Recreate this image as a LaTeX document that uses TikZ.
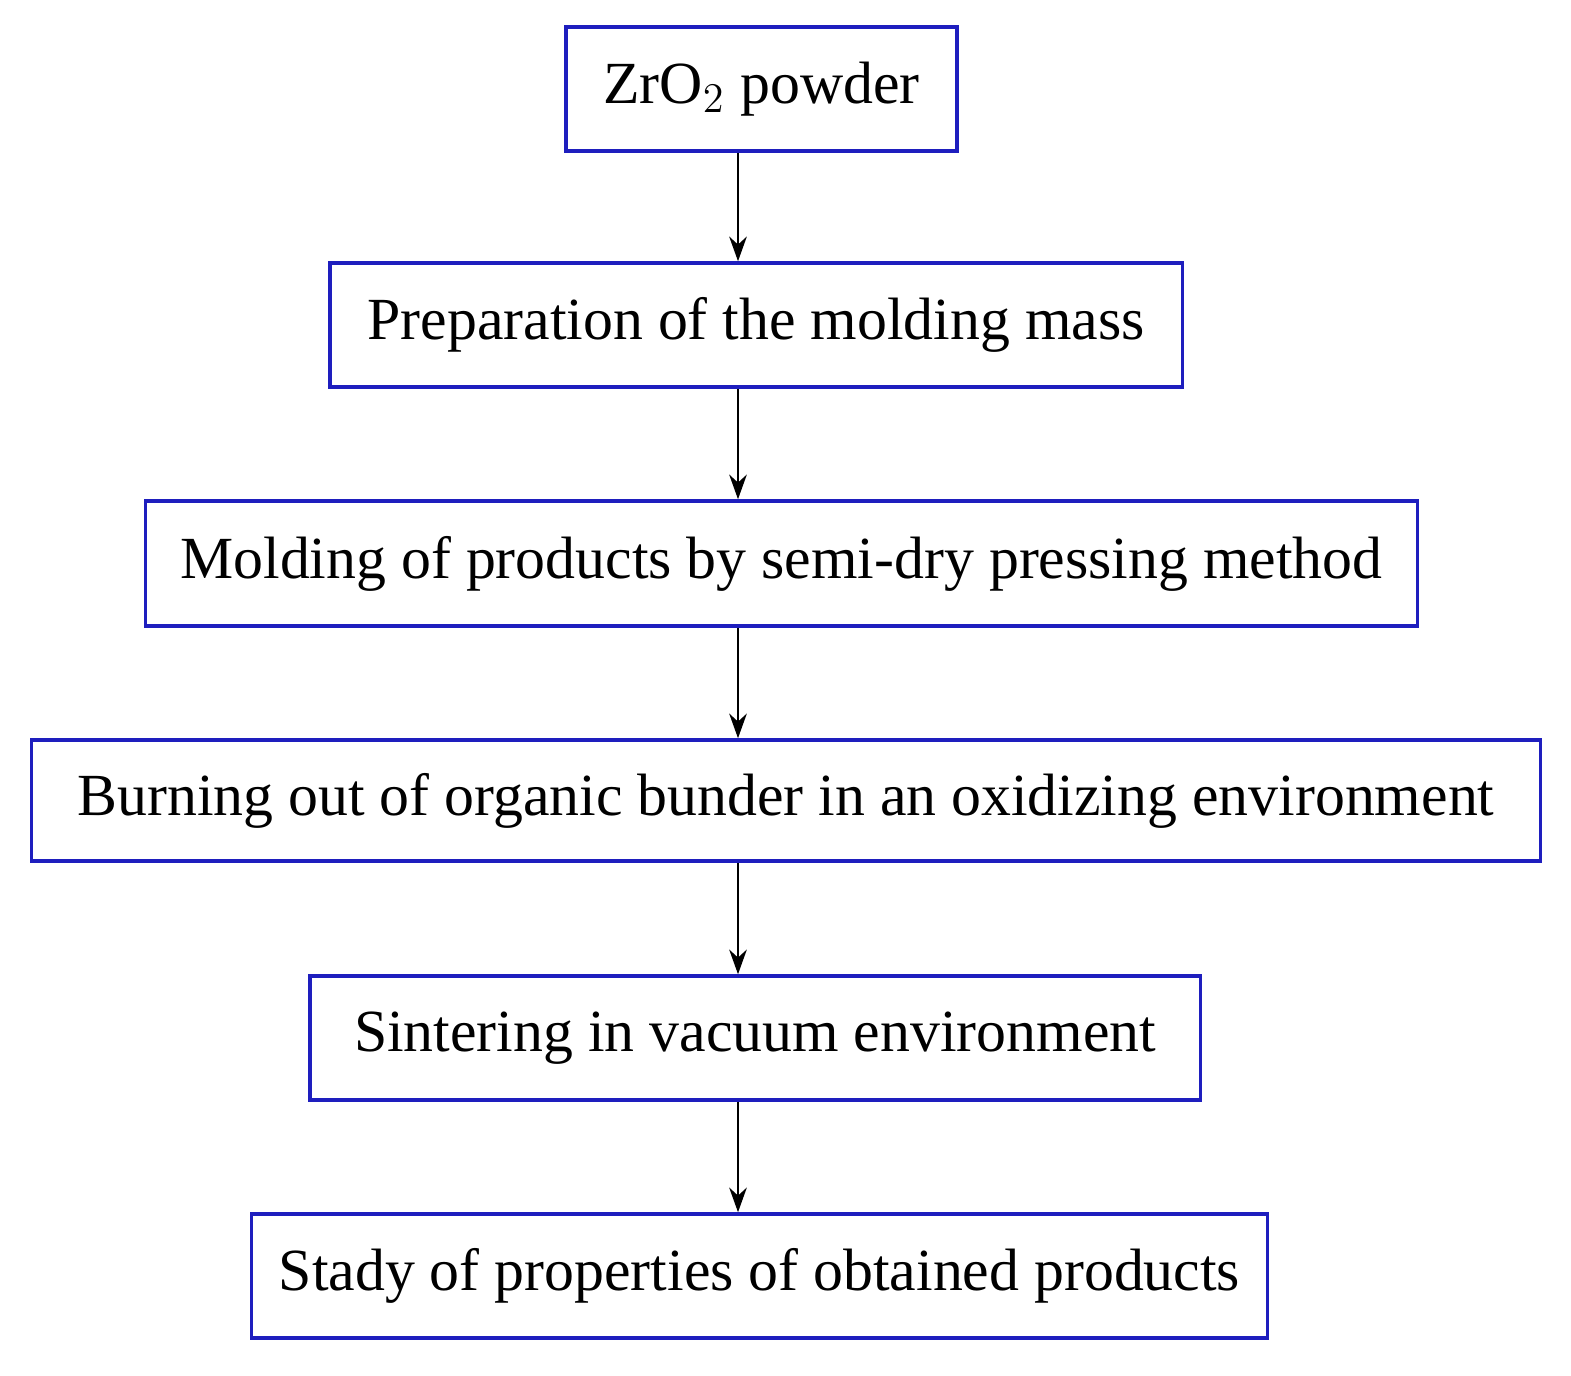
\documentclass[tikz,border=0pt]{standalone}
\usepackage{fontspec}
\setmainfont{Liberation Serif}
\usetikzlibrary{arrows.meta}
\definecolor{bblue}{RGB}{30,30,190}
\begin{document}
\begin{tikzpicture}[x=0.01cm,y=-0.01cm,
  box/.style={draw=bblue,line width=1pt,inner sep=0pt,font=\fontsize{17}{20}\selectfont},
  arr/.style={-{Stealth[length=7pt,width=5pt]},line width=0.7pt}]
\useasboundingbox (0,0) rectangle (1571,1375);
\coordinate (ax) at (738,0);
\node[box,minimum width=3.91cm,minimum height=1.24cm] (b1) at (761.5,89) {ZrO$_2$ powder};
\node[box,minimum width=8.52cm,minimum height=1.24cm] (b2) at (756,325) {Preparation of the molding mass};
\node[box,minimum width=12.71cm,minimum height=1.25cm] (b3) at (781.5,563.5) {Molding of products by semi-dry pressing method};
\node[box,minimum width=15.08cm,minimum height=1.21cm] (b4) at (786,800.5) {Burning out of organic bunder in an oxidizing environment};
\node[box,minimum width=8.90cm,minimum height=1.24cm] (b5) at (755,1038) {Sintering in vacuum environment};
\node[box,minimum width=10.15cm,minimum height=1.24cm] (b6) at (759.5,1276) {Stady of properties of obtained products};
\foreach \a/\b in {b1/b2,b2/b3,b3/b4,b4/b5,b5/b6}
  \draw[arr] (\a.south -| ax) -- (\b.north -| ax);
\end{tikzpicture}
\end{document}
